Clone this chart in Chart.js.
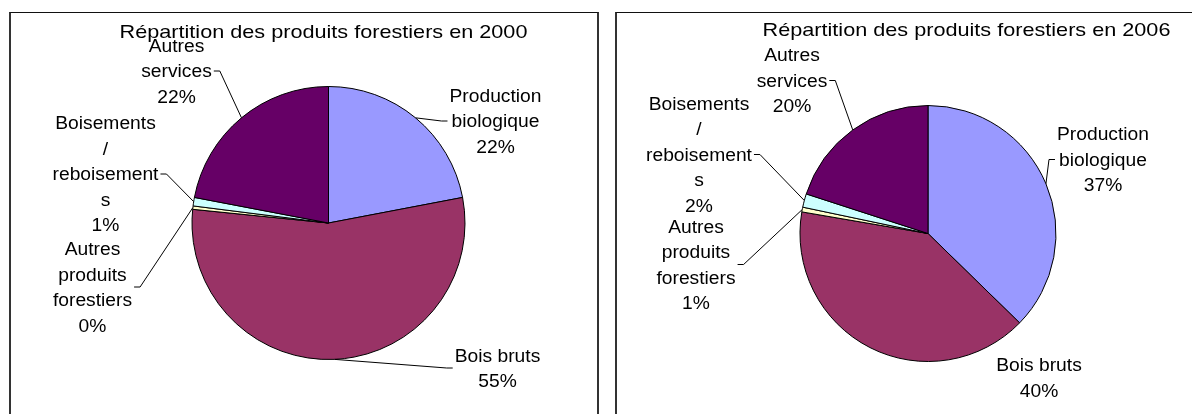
<!DOCTYPE html>
<html lang="fr">
<head>
<meta charset="utf-8">
<title>Répartition des produits forestiers</title>
<script src="https://cdn.jsdelivr.net/npm/chart.js@4/dist/chart.umd.min.js"></script>
<style>
  html, body { margin:0; padding:0; background:#fff; width:1192px; height:414px; overflow:hidden; }
  .box { position:absolute; box-sizing:border-box; background:#fff;
         border-top:1px solid #111; border-left:2px solid #333; }
  .box canvas { position:absolute; left:0; top:0; }
</style>
</head>
<body>
<div class="box" id="box2000" style="left:9px; top:12px; width:590px; height:420px; border-right:2px solid #333;">
  <canvas id="c2000" width="586" height="401"></canvas>
</div>
<div class="box" id="box2006" style="left:615px; top:12px; width:600px; height:420px;">
  <canvas id="c2006" width="575" height="401"></canvas>
</div>
<script>
// ---------- DONNÉES ----------
const categories = ['Production biologique', 'Bois bruts', 'Autres produits forestiers', 'Boisements / reboisements', 'Autres services'];
const values2000 = [22.0, 54.6, 0.4, 1.0, 22.0];
const values2006 = [37.3, 40.4, 0.6, 1.7, 20.0];
const titles     = ['Répartition des produits forestiers en 2000', 'Répartition des produits forestiers en 2006'];
const colors     = ['#9999FF', '#993366', '#FFFFCC', '#CCFFFF', '#660066'];

// ---------- MISE EN PAGE ----------
const FONT = '"Liberation Sans", Arial, sans-serif';
const LABEL_SIZE = 17.5, LABEL_SX = 1.1, LINE_H = 25.5, CAP = 12.5, WRAP_W = 109;
const TITLE_SIZE = 18.5, TITLE_SX = 1.17;

// position des étiquettes, relative au centre du camembert
const labels2000 = [
  { dx: 167,  dy: -102, leader: true },
  { dx: 169,  dy: 145,  leader: true },
  { dx: -236, dy: 64,   leader: true },
  { dx: -223, dy: -49,  leader: true },
  { dx: -152, dy: -152, leader: true }
];
const labels2006 = [
  { dx: 175,  dy: -74,  leader: true },
  { dx: 111,  dy: 144,  leader: false },
  { dx: -232, dy: 31,   leader: true },
  { dx: -229, dy: -79,  leader: true },
  { dx: -136, dy: -153, leader: true }
];

// ---------- UTIL ----------
function drawStretched(ctx, txt, x, y, sx){
  ctx.save();
  ctx.translate(x, y);
  ctx.scale(sx, 1);
  ctx.fillText(txt, 0, 0);
  ctx.restore();
}

function wrap(ctx, text, maxW, sx){
  const w = s => ctx.measureText(s).width * sx;
  const out = [];
  let cur = '';
  for (const word of text.split(' ')){
    const tryS = cur ? cur + ' ' + word : word;
    if (w(tryS) <= maxW){ cur = tryS; continue; }
    if (cur) out.push(cur);
    cur = word;
    // mot trop long : coupure au caractère
    while (w(cur) > maxW){
      let k = cur.length - 1;
      while (k > 1 && w(cur.slice(0, k)) > maxW) k--;
      out.push(cur.slice(0, k));
      cur = cur.slice(k);
    }
  }
  if (cur) out.push(cur);
  return out;
}

const outLabels = {
  id: 'outLabels',
  afterDraw(chart, args, opts){
    const ctx = chart.ctx;
    const meta = chart.getDatasetMeta(0);
    const data = chart.data.datasets[0].data;
    const total = data.reduce((a, b) => a + b, 0);
    let px = 0, py = 0;
    ctx.save();
    ctx.fillStyle = '#000';
    ctx.strokeStyle = '#000';
    ctx.lineWidth = 1;
    ctx.textAlign = 'center';
    ctx.textBaseline = 'alphabetic';
    ctx.font = `${LABEL_SIZE}px ${FONT}`;

    meta.data.forEach((arc, i) => {
      const { x, y, startAngle, endAngle, outerRadius } =
        arc.getProps(['x', 'y', 'startAngle', 'endAngle', 'outerRadius'], true);
      px = x; py = y;
      const mid = (startAngle + endAngle) / 2;
      const ax = x + Math.cos(mid) * outerRadius;
      const ay = y + Math.sin(mid) * outerRadius;

      const pct = Math.round(data[i] / total * 100) + '%';
      const lines = wrap(ctx, chart.data.labels[i], WRAP_W, LABEL_SX).concat(pct);
      const p = opts.pos[i];
      const cx = x + p.dx, cy = y + p.dy;
      const maxW = Math.max(...lines.map(l => ctx.measureText(l).width * LABEL_SX));
      const first = cy - (lines.length - 1) * LINE_H / 2 + CAP / 2;
      lines.forEach((l, k) => drawStretched(ctx, l, cx, first + k * LINE_H, LABEL_SX));

      if (p.leader){
        const side = cx > x ? -1 : 1;
        const t0 = cx + side * (maxW / 2 + 2);
        const t1 = t0 + side * 6;
        ctx.beginPath();
        ctx.moveTo(ax, ay);
        ctx.lineTo(t1, cy);
        ctx.lineTo(t0, cy);
        ctx.stroke();
      }
    });

    ctx.font = `${TITLE_SIZE}px ${FONT}`;
    drawStretched(ctx, opts.title, px + opts.titleDx, py + opts.titleDy, TITLE_SX);
    ctx.restore();
  }
};

function makePie(canvasId, origin, center, r, values, title, pos, titleDx, titleDy){
  const cv = document.getElementById(canvasId);
  const R = r + 0.5;
  const padding = {
    left:   center.x - R - origin.x,
    top:    center.y - R - origin.y,
    right:  cv.width  - (center.x + R - origin.x),
    bottom: cv.height - (center.y + R - origin.y)
  };
  return new Chart(cv, {
    type: 'pie',
    data: {
      labels: categories,
      datasets: [{
        data: values,
        backgroundColor: colors,
        borderColor: '#000',
        borderWidth: 1
      }]
    },
    options: {
      responsive: false,
      animation: false,
      layout: { padding },
      plugins: {
        legend: { display: false },
        title: { display: false },
        tooltip: { enabled: false },
        outLabels: { pos, title, titleDx, titleDy }
      }
    },
    plugins: [outLabels]
  });
}

makePie('c2000', { x: 11, y: 13 },  { x: 328.5, y: 223 },   136.5, values2000, titles[0], labels2000, -5, -185);
makePie('c2006', { x: 617, y: 13 }, { x: 928,   y: 233.5 }, 128,   values2006, titles[1], labels2006, 38.5, -197.5);
</script>
</body>
</html>
